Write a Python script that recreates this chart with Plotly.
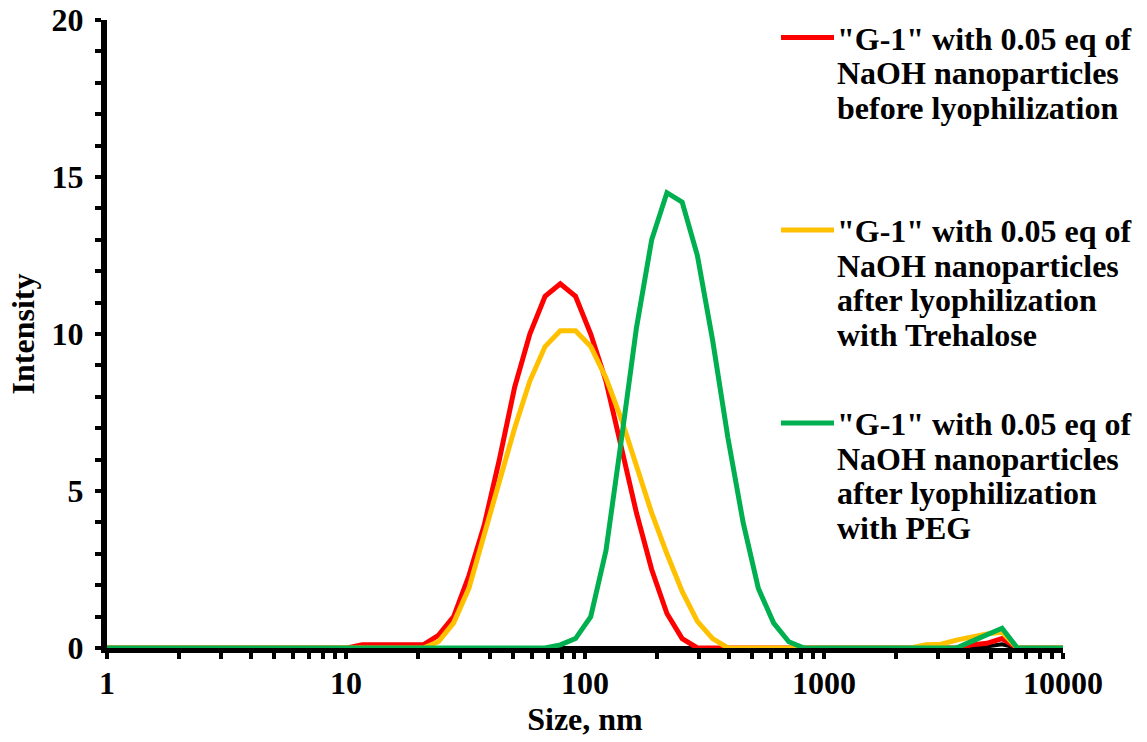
import plotly.graph_objects as go

# ---------------- data ----------------
sizes_nm = [0.9649, 1.117, 1.294, 1.499, 1.736, 2.010, 2.328, 2.696, 3.122, 3.615,
            4.187, 4.849, 5.615, 6.503, 7.531, 8.721, 10.10, 11.70, 13.54, 15.69,
            18.17, 21.04, 24.36, 28.21, 32.67, 37.84, 43.82, 50.75, 58.77, 68.06,
            78.82, 91.28, 105.7, 122.4, 141.8, 164.2, 190.1, 220.2, 255.0, 295.3,
            342.0, 396.1, 458.7, 531.2, 615.1, 712.4, 825.0, 955.4, 1106, 1281,
            1484, 1718, 1990, 2305, 2669, 3091, 3580, 4145, 4801, 5560,
            6439, 7456, 8635, 10000]

before_lyo = [0, 0, 0, 0, 0, 0, 0, 0, 0, 0,
              0, 0, 0, 0, 0, 0, 0, 0.1, 0.1, 0.1,
              0.1, 0.1, 0.4, 1.0, 2.3, 3.9, 6.0, 8.3, 10.0, 11.2,
              11.6, 11.2, 10.0, 8.5, 6.4, 4.3, 2.5, 1.1, 0.3, 0,
              0, 0, 0, 0, 0, 0, 0, 0, 0, 0,
              0, 0, 0, 0, 0, 0, 0, 0.1, 0.15, 0.3,
              0, 0, 0, 0]

trehalose = [0, 0, 0, 0, 0, 0, 0, 0, 0, 0,
             0, 0, 0, 0, 0, 0, 0, 0, 0, 0,
             0, 0, 0.2, 0.8, 1.9, 3.6, 5.3, 7.0, 8.5, 9.6,
             10.1, 10.1, 9.6, 8.6, 7.3, 5.8, 4.3, 3.0, 1.8, 0.85,
             0.3, 0, 0, 0, 0, 0, 0, 0, 0, 0,
             0, 0, 0, 0, 0.1, 0.12, 0.25, 0.35, 0.45, 0.5,
             0, 0, 0, 0]

peg = [0, 0, 0, 0, 0, 0, 0, 0, 0, 0,
       0, 0, 0, 0, 0, 0, 0, 0, 0, 0,
       0, 0, 0, 0, 0, 0, 0, 0, 0, 0,
       0.1, 0.3, 1.0, 3.1, 6.6, 10.2, 13.0, 14.5, 14.2, 12.5,
       9.8, 6.7, 4.0, 1.9, 0.8, 0.2, 0, 0, 0, 0,
       0, 0, 0, 0, 0, 0, 0, 0.21, 0.42, 0.63,
       0, 0, 0, 0]

baseline_series = [0] * 58 + [0.05, 0.12, 0, 0, 0, 0]

legend_entries = [
    ['"G-1" with 0.05 eq of', 'NaOH nanoparticles', 'before lyophilization'],
    ['"G-1" with 0.05 eq of', 'NaOH nanoparticles', 'after lyophilization', 'with Trehalose'],
    ['"G-1" with 0.05 eq of', 'NaOH nanoparticles', 'after lyophilization', 'with PEG'],
]
colors = ['#FF0000', '#FFC000', '#00B050']

x_tick_vals = [1, 10, 100, 1000, 10000]
x_tick_text = ['1', '10', '100', '1000', '10000']

# ---------------- figure ----------------
FONT = 'Liberation Serif'
W, H = 1147, 742
L, R, T, B = 107, 84, 20, 94
PW, PH = W - L - R, H - T - B

fig = go.Figure()
fig.add_trace(go.Scatter(x=sizes_nm, y=baseline_series, mode='lines',
                         line=dict(color='black', width=4), showlegend=False,
                         hoverinfo='skip'))
for ys, c in zip([before_lyo, trehalose, peg], colors):
    fig.add_trace(go.Scatter(x=sizes_nm, y=ys, mode='lines',
                             line=dict(color=c, width=5), showlegend=False))

fig.update_layout(
    template='none',
    width=W, height=H,
    margin=dict(l=L, r=R, t=T, b=B, pad=0, autoexpand=False),
    paper_bgcolor='white', plot_bgcolor='white',
    font=dict(family=FONT, size=32, color='black', weight='bold'),
    showlegend=False,
)
fig.update_xaxes(
    type='log', range=[0, 4], automargin=False,
    tickvals=x_tick_vals, ticktext=x_tick_text,
    showgrid=False, zeroline=False,
    showline=True, linecolor='black', linewidth=5,
    ticks='outside', ticklen=6, tickwidth=4, tickcolor='black',
    minor=dict(ticks='outside', ticklen=6, tickwidth=4, tickcolor='black',
               showgrid=False, dtick='D1'),
    tickfont=dict(family=FONT, size=32, color='black', weight='bold'),
    ticklabelstandoff=-3,
    title=dict(text='Size, nm', standoff=9,
               font=dict(family=FONT, size=32, color='black', weight='bold')),
    layer='below traces',
)
fig.update_yaxes(
    range=[0, 20], dtick=5, automargin=False,
    showgrid=False, zeroline=False,
    showline=True, linecolor='black', linewidth=6,
    ticks='outside', ticklen=6, tickwidth=4, tickcolor='black',
    minor=dict(ticks='outside', ticklen=6, tickwidth=4, tickcolor='black',
               showgrid=False, dtick=1),
    tickfont=dict(family=FONT, size=32, color='black', weight='bold'),
    ticklabelstandoff=5,
    title=dict(text='Intensity', standoff=9,
               font=dict(family=FONT, size=32, color='black', weight='bold')),
    layer='below traces',
)

# legend drawn manually (tight line spacing like the original)
first_centres = [38.5, 231, 424]
pitch = 34.6
text_x_px = 836
for entry, c, yc in zip(legend_entries, colors, first_centres):
    fig.add_shape(type='line', xref='paper', yref='paper',
                  x0=(781 - L) / PW, x1=(834 - L) / PW,
                  y0=(T + PH - yc + 1) / PH, y1=(T + PH - yc + 1) / PH,
                  line=dict(color=c, width=5))
    for i, line_txt in enumerate(entry):
        ypx = yc + i * pitch
        fig.add_annotation(text=line_txt, xref='paper', yref='paper',
                           x=(text_x_px - L) / PW, y=(T + PH - ypx) / PH,
                           xanchor='left', yanchor='middle', showarrow=False,
                           borderpad=0,
                           font=dict(family=FONT, size=32, color='black', weight='bold'))

fig.write_html('out.html')
